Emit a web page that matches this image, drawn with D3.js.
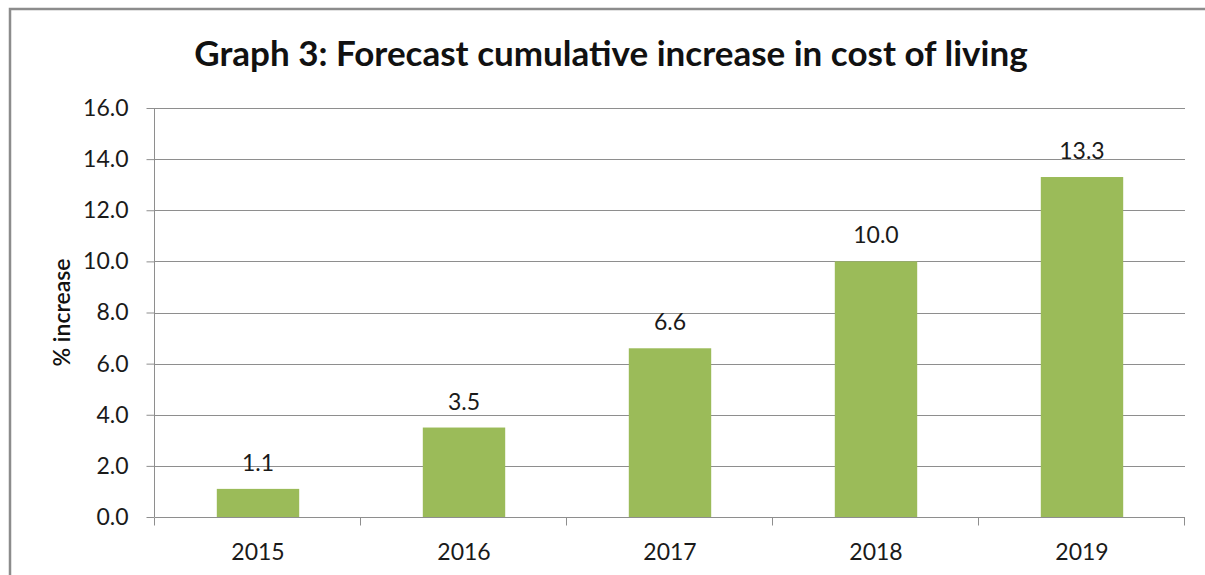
<!DOCTYPE html>
<html>
<head>
<meta charset="utf-8">
<script src="https://cdn.jsdelivr.net/npm/d3@7"></script>
<style>
  html, body { margin: 0; padding: 0; background: #fff; }
  svg { display: block; font-family: Lato, "Open Sans", sans-serif; }
</style>
</head>
<body>
<div id="chart"></div>
<script>
const years = ["2015", "2016", "2017", "2018", "2019"];
const increases = [1.1, 3.5, 6.6, 10.0, 13.3];
const yTicks = [0, 2, 4, 6, 8, 10, 12, 14, 16];

const width = 1205;
const height = 575;
const marginTop = 108;
const marginRight = 20;
const marginBottom = 58;
const marginLeft = 155;

const svg = d3
  .create("svg")
  .attr("viewBox", [0, 0, width, height])
  .attr("width", width)
  .attr("height", height);

// Chart frame
svg
  .append("path")
  .attr("d", `M10,${height} V9 H${width}`)
  .attr("fill", "none")
  .attr("stroke", "#8c8c8c")
  .attr("stroke-width", 2.5);

svg
  .append("text")
  .attr("x", 611)
  .attr("y", 66)
  .attr("text-anchor", "middle")
  .attr("font-size", 35)
  .attr("font-weight", "bold")
  .attr("fill", "#111")
  .text("Graph 3: Forecast cumulative increase in cost of living");

const x = d3
  .scaleBand()
  .domain(years)
  .range([marginLeft, width - marginRight])
  .paddingInner(0.6)
  .paddingOuter(0.3);

const y = d3
  .scaleLinear()
  .domain([0, 16])
  .range([height - marginBottom, marginTop]);

// Gridlines
svg
  .append("g")
  .selectAll("line")
  .data(yTicks)
  .join("line")
  .attr("x1", marginLeft)
  .attr("x2", width - marginRight)
  .attr("y1", (d) => Math.round(y(d)) + 0.5)
  .attr("y2", (d) => Math.round(y(d)) + 0.5)
  .attr("stroke", "#8e8e8e")
  .attr("stroke-width", 1);

// Y axis
const yAxis = svg
  .append("g")
  .attr("transform", `translate(${marginLeft - 0.5},0)`)
  .call(
    d3.axisLeft(y)
      .tickValues(yTicks)
      .tickFormat(d3.format(".1f"))
      .tickSize(8)
      .tickPadding(18)
  );

yAxis.select(".domain").attr("stroke", "#8e8e8e").attr("d", `M0,${marginTop}V${height - marginBottom}`);
yAxis.selectAll(".tick line").attr("stroke", "#8e8e8e");
yAxis
  .selectAll(".tick text")
  .attr("font-size", 23)
  .attr("fill", "#1a1a1a")
  .attr("font-family", "Lato, sans-serif");

// X axis with boundary ticks like the original
const xAxisG = svg
  .append("g")
  .attr("transform", `translate(0,${Math.round(y(0)) + 0.5})`);

xAxisG
  .append("line")
  .attr("x1", marginLeft)
  .attr("x2", width - marginRight)
  .attr("stroke", "#8e8e8e");

const boundaries = years.map((d) => x(d) - (x.step() * x.paddingInner()) / 2);
boundaries.push(width - marginRight);

xAxisG
  .selectAll("line.bound")
  .data(boundaries)
  .join("line")
  .attr("class", "bound")
  .attr("x1", (d) => Math.round(d) - 0.5)
  .attr("x2", (d) => Math.round(d) - 0.5)
  .attr("y1", 0)
  .attr("y2", 8)
  .attr("stroke", "#8e8e8e");

xAxisG
  .selectAll("text")
  .data(years)
  .join("text")
  .attr("x", (d) => x(d) + x.bandwidth() / 2)
  .attr("y", 42)
  .attr("text-anchor", "middle")
  .attr("font-size", 23)
  .attr("fill", "#1a1a1a")
  .text((d) => d);

// Bars
svg
  .append("g")
  .selectAll("rect")
  .data(increases)
  .join("rect")
  .attr("x", (d, i) => x(years[i]))
  .attr("y", (d) => y(d))
  .attr("width", x.bandwidth())
  .attr("height", (d) => y(0) - y(d))
  .attr("fill", "#9bbb59");

// Value labels
svg
  .append("g")
  .selectAll("text")
  .data(increases)
  .join("text")
  .attr("x", (d, i) => x(years[i]) + x.bandwidth() / 2)
  .attr("y", (d) => y(d) - 18)
  .attr("text-anchor", "middle")
  .attr("font-size", 23)
  .attr("fill", "#1a1a1a")
  .text((d) => d3.format(".1f")(d));

// Y axis title
svg
  .append("text")
  .attr("transform", `translate(70,${(marginTop + height - marginBottom) / 2}) rotate(-90)`)
  .attr("text-anchor", "middle")
  .attr("font-size", 23)
  .attr("font-weight", 600)
  .attr("fill", "#111")
  .text("% increase");

d3.select("#chart").append(() => svg.node());
</script>
</body>
</html>
